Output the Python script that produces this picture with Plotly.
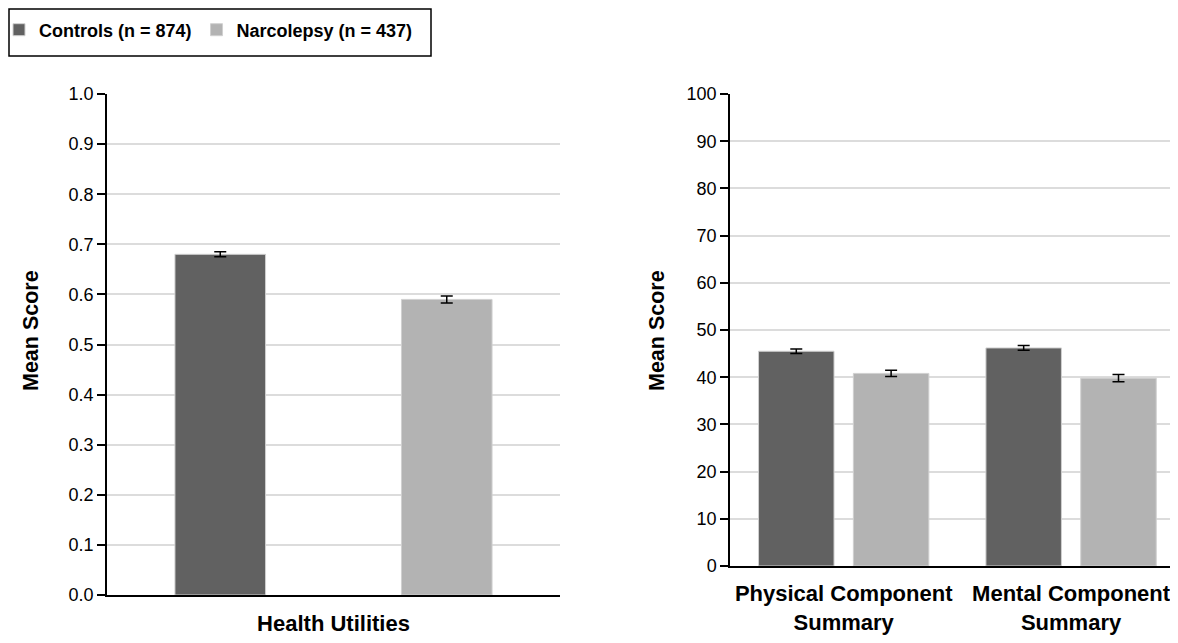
import plotly.graph_objects as go

# ---- data ----
groups = ["Controls (n = 874)", "Narcolepsy (n = 437)"]
colors = ["#616161", "#b3b3b3"]

hu_categories = ["Health Utilities"]
hu_means = {"Controls (n = 874)": [0.68], "Narcolepsy (n = 437)": [0.59]}
hu_err = {"Controls (n = 874)": [0.005], "Narcolepsy (n = 437)": [0.007]}

sf_categories = ["Physical Component<br>Summary", "Mental Component<br>Summary"]
sf_means = {"Controls (n = 874)": [45.5, 46.2], "Narcolepsy (n = 437)": [40.8, 39.8]}
sf_err = {"Controls (n = 874)": [0.5, 0.5], "Narcolepsy (n = 437)": [0.65, 0.75]}

left_ticks = [0.0, 0.1, 0.2, 0.3, 0.4, 0.5, 0.6, 0.7, 0.8, 0.9, 1.0]
left_ticktext = [f"{v:.1f}" for v in left_ticks]
right_ticks = list(range(0, 101, 10))
y_title = "Mean Score"

FONT = "Liberation Sans, Arial, sans-serif"

# bar geometry (styles)
hu_width, hu_offsets = 0.2, [-0.35, 0.15]
sf_width, sf_offsets = 0.332, [-0.3745, 0.0425]

fig = go.Figure()
for i, g in enumerate(groups):
    fig.add_trace(go.Bar(
        x=hu_categories, y=hu_means[g], name=g, xaxis="x", yaxis="y",
        marker=dict(color=colors[i], line=dict(color="#d0d0d0", width=1)),
        width=hu_width, offset=hu_offsets[i],
        error_y=dict(type="data", array=hu_err[g], color="black", thickness=1.5, width=6),
        legendgroup=g, showlegend=True,
    ))
for i, g in enumerate(groups):
    fig.add_trace(go.Bar(
        x=sf_categories, y=sf_means[g], name=g, xaxis="x2", yaxis="y2",
        marker=dict(color=colors[i], line=dict(color="#d0d0d0", width=1)),
        width=sf_width, offset=sf_offsets[i],
        error_y=dict(type="data", array=sf_err[g], color="black", thickness=1.5, width=6),
        legendgroup=g, showlegend=False,
    ))

# page has an 8px body margin; figure sized to fit the 1178x643 window
OFF = 8
W, H = 1178 - 2 * OFF, 643 - 2 * OFF
def px_x(p): return (p - OFF) / W
def px_y(p): return 1 - (p - OFF) / H

tickfont = dict(family=FONT, size=18, color="black")
catfont = dict(family=FONT, size=22, color="black", weight="bold")
titlefont = dict(family=FONT, size=21.5, color="black", weight="bold")

fig.update_layout(
    width=W, height=H,
    margin=dict(l=0, r=0, t=0, b=0, autoexpand=False),
    paper_bgcolor="white", plot_bgcolor="white",
    barmode="group",
    font=dict(family=FONT, color="black"),
    xaxis=dict(domain=[px_x(107), px_x(560)], anchor="y", type="category",
               range=[-0.5, 0.5], showline=True, linecolor="black", linewidth=1.5,
               ticks="", tickfont=catfont, showgrid=False, automargin=False,
               ticklabelstandoff=8),
    yaxis=dict(domain=[px_y(595), px_y(94)], anchor="x", range=[0, 1.0],
               tickvals=left_ticks, ticktext=left_ticktext,
               showline=True, linecolor="black", linewidth=1.5,
               ticks="outside", ticklen=8, tickcolor="black", tickwidth=1.5,
               tickfont=tickfont, showgrid=True, gridcolor="#dcdcdc", gridwidth=1.5,
               zeroline=False, automargin=False),
    xaxis2=dict(domain=[px_x(730), 1.0], anchor="y2", type="category",
                range=[-0.5, 1.435], showline=True, linecolor="black", linewidth=1.5,
                ticks="", tickfont=catfont, showgrid=False, automargin=False,
                ticklabelstandoff=7),
    yaxis2=dict(domain=[px_y(566), px_y(94)], anchor="x2", range=[0, 100],
                tickvals=right_ticks,
                showline=True, linecolor="black", linewidth=1.5,
                ticks="outside", ticklen=8, tickcolor="black", tickwidth=1.5,
                tickfont=tickfont, showgrid=True, gridcolor="#dcdcdc", gridwidth=1.5,
                zeroline=False, automargin=False),
    legend=dict(orientation="h", x=px_x(-1), y=px_y(30), xanchor="left", yanchor="middle",
                font=dict(family=FONT, size=18, color="black", weight="bold"),
                bgcolor="rgba(0,0,0,0)", borderwidth=0, itemwidth=30),
    annotations=[
        dict(text=y_title, xref="paper", yref="paper", x=px_x(31), y=px_y(331),
             xanchor="center", yanchor="middle", textangle=-90, showarrow=False,
             font=titlefont),
        dict(text=y_title, xref="paper", yref="paper", x=px_x(657), y=px_y(331),
             xanchor="center", yanchor="middle", textangle=-90, showarrow=False,
             font=titlefont),
    ],
    shapes=[dict(type="rect", xref="paper", yref="paper",
                 x0=px_x(9), x1=px_x(431), y0=px_y(56), y1=px_y(9),
                 line=dict(color="black", width=1.5), fillcolor="rgba(0,0,0,0)")],
)

fig.write_html("out.html")
